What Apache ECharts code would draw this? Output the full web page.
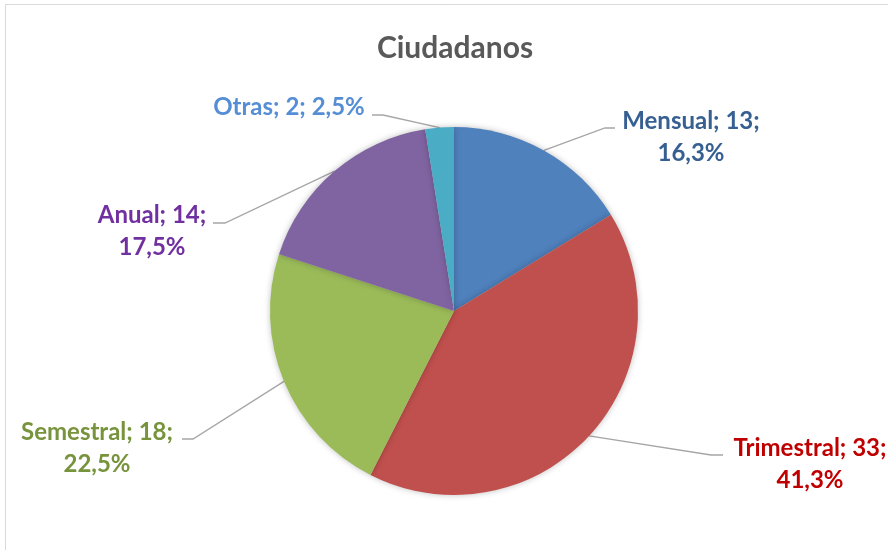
<!DOCTYPE html>
<html>
<head>
<meta charset="utf-8">
<script src="https://cdn.jsdelivr.net/npm/echarts@6/dist/echarts.min.js"></script>
<style>
  html, body {margin: 0; padding: 0; background: #fff;}
  #chart {width: 888px; height: 550px;}
</style>
</head>
<body>
<div id="chart"></div>
<script>
  // datos del gráfico
  let categories = ['Mensual', 'Trimestral', 'Semestral', 'Anual', 'Otras'];
  let values = [13, 33, 18, 14, 2];

  let sliceColors = ['#4F81BD', '#C0504D', '#9BBB59', '#8064A2', '#4BACC6'];
  let labelColors = ['#376092', '#C00000', '#77933C', '#7030A0', '#558ED5'];

  // donde va cada etiqueta (centro del texto) y el codo de la linea
  let labelPlaces = [
    {x: 691, y: 137, bend: [605, 128], end: [615, 128], wrap: true},
    {x: 810, y: 464, bend: [711, 455], end: [723, 455], wrap: true},
    {x: 97,  y: 448, bend: [193, 439], end: [182, 439], wrap: true},
    {x: 152, y: 231, bend: [225, 223], end: [213, 223], wrap: true},
    {x: 289, y: 107, bend: [383, 115], end: [372, 115], wrap: false}
  ];

  let chart = echarts.init(document.getElementById('chart'));

  let option = {
    backgroundColor: '#fff',
    title: {
      text: 'Ciudadanos', left: 454, textAlign: 'center', top: 28,
      textStyle: {fontFamily: 'Lato', fontSize: 30, fontWeight: 'bold', color: '#595959'}
    },
    graphic: [{
      type: 'rect', silent: true,
      shape: {x: 5.5, y: 4.5, width: 900, height: 600},
      style: {fill: 'none', stroke: '#d9d9d9', lineWidth: 1}
    }],
    series: [{
      type: 'pie',
      center: [454, 311],
      radius: 184,
      startAngle: 90,
      clockwise: true,
      animation: false,
      data: categories.map(function(name, i) {
        return {
          name: name,
          value: values[i],
          itemStyle: {color: sliceColors[i]},
          label: {color: labelColors[i]}
        };
      }),
      itemStyle: {shadowBlur: 6, shadowColor: 'rgba(0,0,0,0.25)'},
      label: {
        show: true,
        fontFamily: 'Lato',
        fontSize: 24,
        fontWeight: 'bold',
        lineHeight: 32,
        align: 'center',
        formatter: function(p) {
          let pct = p.percent.toFixed(1).replace('.', ',') + '%';
          let sep = labelPlaces[p.dataIndex].wrap ? '\n' : ' ';
          return p.name + '; ' + p.value + ';' + sep + pct;
        }
      },
      labelLine: {show: true, lineStyle: {color: '#a6a6a6', width: 1.3}},
      labelLayout: function(params) {
        let pl = labelPlaces[params.dataIndex];
        let pts = params.labelLinePoints;
        return {
          x: pl.x, y: pl.y,
          align: 'center', verticalAlign: 'middle',
          labelLinePoints: [pts[0], pl.bend, pl.end]
        };
      }
    }]
  };

  // el titulo queda un poco a la derecha, se corrige a mano
  option.title.left = 450;

  chart.setOption(option);
</script>
</body>
</html>
